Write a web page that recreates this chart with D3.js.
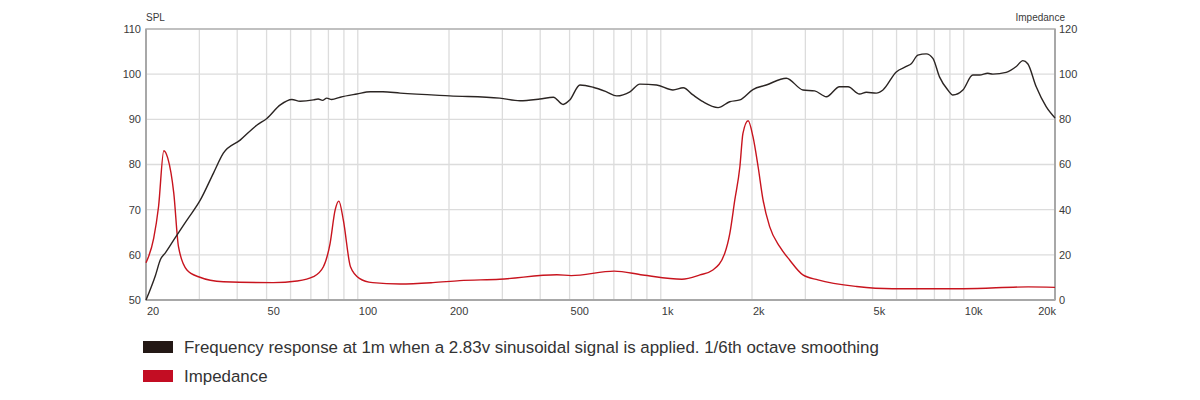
<!DOCTYPE html>
<html>
<head>
<meta charset="utf-8">
<script src="https://cdn.jsdelivr.net/npm/d3@7"></script>
<style>
  body { margin: 0; background: #fff; }
  svg { font-family: "Liberation Sans", Arial, sans-serif; }
</style>
</head>
<body>
<div id="chart"></div>
<script>
// frequency response (SPL, dB)
const splFreq = [20, 21.5, 22.3, 23.2, 24.7, 27.3, 30.2, 33.4, 36.0, 40.9, 46.4, 50.1, 55.5, 60.6, 64.5, 71.4, 74, 76.5, 79, 82, 87.5, 99.3, 110, 121, 138, 201, 294, 343, 399, 442, 476, 501, 541, 598, 662, 715, 791, 853, 968, 1097, 1186, 1277, 1378, 1545, 1688, 1824, 2014, 2229, 2596, 2945, 3220, 3519, 3890, 4150, 4530, 4768, 5143, 5410, 5986, 6457, 6708, 7051, 7517, 7908, 8314, 8858, 9200, 9932, 10710, 11270, 12000, 12470, 13800, 14900, 15670, 16260, 17340, 18700, 20000]
const splValues = [50, 55.5, 58.9, 60.5, 63.3, 67.7, 72.1, 78.1, 82.5, 85.4, 88.7, 90.2, 93.2, 94.4, 94.0, 94.3, 94.5, 94.2, 94.7, 94.4, 94.9, 95.6, 96.1, 96.1, 95.8, 95.2, 94.7, 94.1, 94.5, 94.9, 93.3, 94.3, 97.6, 97.1, 96.1, 95.2, 96.1, 97.8, 97.6, 96.5, 97.0, 95.4, 93.9, 92.6, 93.9, 94.3, 96.6, 97.6, 99.1, 96.5, 96.3, 95.0, 97.2, 97.2, 95.6, 96.0, 95.8, 96.5, 100.5, 101.7, 102.3, 104.2, 104.5, 103.5, 99.4, 96.5, 95.4, 96.5, 99.8, 99.8, 100.2, 100.0, 100.4, 101.7, 103.0, 102.3, 97.2, 92.8, 90.3]

// impedance (ohm)
const impFreq = [20, 21.2, 22.0, 22.9, 23.6, 24.7, 25.6, 27.3, 29.8, 36, 52.6, 63, 71.4, 77, 81, 84.2, 86.6, 89.6, 94.6, 101.2, 112, 138, 177, 217, 294, 454, 506, 702, 871, 1174, 1346, 1486, 1626, 1690, 1755, 1824, 1867, 1942, 2015, 2095, 2175, 2287, 2469, 2662, 2945, 3302, 4430, 5810, 10000, 16300, 20000]
const impValues = [16.5, 27.3, 41.3, 66.1, 62.8, 47.3, 23.6, 13.3, 10.3, 8.1, 7.7, 8.4, 10.3, 14.7, 25, 39.9, 43.8, 35.4, 14.7, 9.6, 7.7, 7.1, 7.7, 8.6, 9.2, 11.2, 10.8, 12.8, 11.1, 9.2, 11.1, 13.3, 20.7, 29.5, 44.3, 59.0, 73.8, 79.4, 72.3, 59.0, 44.3, 32.5, 23.6, 17.7, 11.1, 8.9, 6.0, 5.0, 5.0, 5.8, 5.6]

// axis ticks
const gridFreqs = [20, 30, 40, 50, 60, 70, 80, 90, 100, 200, 300, 400, 500, 600, 700, 800, 900, 1000, 2000, 3000, 4000, 5000, 6000, 7000, 8000, 9000, 10000, 20000]
const labelFreqs = [20, 50, 100, 200, 500, 1000, 2000, 5000, 10000, 20000]
const freqLabels = ["20", "50", "100", "200", "500", "1k", "2k", "5k", "10k", "20k"]
const splTicks = [50, 60, 70, 80, 90, 100, 110]
const impTicks = [0, 20, 40, 60, 80, 100, 120]

const legendItems = [
  { label: "Frequency response at 1m when a 2.83v sinusoidal signal is applied. 1/6th octave smoothing", color: "#231815" },
  { label: "Impedance", color: "#c30d23" }
]

const margin = {top: 29, right: 145, bottom: 100, left: 146},
    width = 1200 - margin.left - margin.right,
    height = 400 - margin.top - margin.bottom;

const svg = d3.select("#chart")
  .append("svg")
    .attr("width", 1200)
    .attr("height", 400)

const g = svg.append("g")
    .attr("transform", `translate(${margin.left},${margin.top})`);

const x = d3.scaleLog().domain([20, 20000]).range([0, width])
const y = d3.scaleLinear().domain([50, 110]).range([height, 0])
const y2 = d3.scaleLinear().domain([0, 120]).range([height, 0])

// grid
g.append("g")
  .selectAll("line")
  .data(gridFreqs)
  .join("line")
    .attr("x1", d => x(d)).attr("x2", d => x(d))
    .attr("y1", 0).attr("y2", height)
    .attr("stroke", "#dcdcdc")
    .attr("stroke-width", 1.3)

g.append("g")
  .selectAll("line")
  .data(splTicks)
  .join("line")
    .attr("x1", 0).attr("x2", width)
    .attr("y1", d => y(d)).attr("y2", d => y(d))
    .attr("stroke", "#dcdcdc")
    .attr("stroke-width", 1.3)

// frame
g.append("rect")
  .attr("width", width).attr("height", height)
  .attr("fill", "none")
  .attr("stroke", "#b4b4b4")
  .attr("stroke-width", 1.5)
g.append("line")
  .attr("x1", 0).attr("x2", 0).attr("y1", 0).attr("y2", height)
  .attr("stroke", "#a8a8a8").attr("stroke-width", 2)
g.append("line")
  .attr("x1", width).attr("x2", width).attr("y1", 0).attr("y2", height)
  .attr("stroke", "#a8a8a8").attr("stroke-width", 2)
g.append("line")
  .attr("x1", 0).attr("x2", width).attr("y1", height).attr("y2", height)
  .attr("stroke", "#a8a8a8").attr("stroke-width", 2)

// axis labels
const axisText = {"font-size": "11px", "fill": "#3a3a3a"}

g.append("g")
  .selectAll("text")
  .data(splTicks)
  .join("text")
    .attr("x", -5)
    .attr("y", d => y(d))
    .attr("dy", "0.35em")
    .attr("text-anchor", "end")
    .attr("font-size", axisText["font-size"])
    .attr("fill", axisText.fill)
    .text(d => d)

g.append("g")
  .selectAll("text")
  .data(impTicks)
  .join("text")
    .attr("x", width + 4)
    .attr("y", d => y2(d))
    .attr("dy", "0.35em")
    .attr("text-anchor", "start")
    .attr("font-size", axisText["font-size"])
    .attr("fill", axisText.fill)
    .text(d => d)

g.append("g")
  .selectAll("text")
  .data(labelFreqs)
  .join("text")
    .attr("x", (d, i) => i === labelFreqs.length - 1 ? x(d) + 1 : x(d) + 1)
    .attr("y", height + 15)
    .attr("text-anchor", (d, i) => i === labelFreqs.length - 1 ? "end" : "start")
    .attr("font-size", axisText["font-size"])
    .attr("fill", axisText.fill)
    .text((d, i) => freqLabels[i])

g.append("text")
  .attr("x", 0).attr("y", -8)
  .attr("font-size", "10px").attr("fill", axisText.fill)
  .text("SPL")
g.append("text")
  .attr("x", width + 10).attr("y", -8)
  .attr("text-anchor", "end")
  .attr("font-size", "10px").attr("fill", axisText.fill)
  .text("Impedance")

// curves
const splLine = d3.line()
  .x((d, i) => x(splFreq[i]))
  .y(d => y(d))
  .curve(d3.curveMonotoneX)

const impLine = d3.line()
  .x((d, i) => x(impFreq[i]))
  .y(d => y2(d))
  .curve(d3.curveMonotoneX)

g.append("path")
  .datum(impValues)
  .attr("d", impLine)
  .attr("fill", "none")
  .attr("stroke", "#c8141e")
  .attr("stroke-width", 1.4)

g.append("path")
  .datum(splValues)
  .attr("d", splLine)
  .attr("fill", "none")
  .attr("stroke", "#2b2523")
  .attr("stroke-width", 1.4)

// legend
const legend = svg.append("g")
  .attr("transform", "translate(143,341)")

const item = legend.selectAll("g")
  .data(legendItems)
  .join("g")
    .attr("transform", (d, i) => `translate(0,${i * 29})`)

item.append("rect")
  .attr("width", 30).attr("height", 12)
  .attr("fill", d => d.color)

item.append("text")
  .attr("x", 41).attr("y", 6)
  .attr("dy", "0.35em")
  .attr("font-size", "16.9px")
  .attr("fill", "#333")
  .text(d => d.label)
</script>
</body>
</html>
